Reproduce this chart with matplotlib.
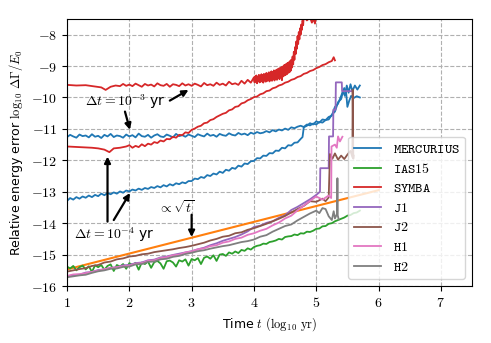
import numpy as np
import matplotlib
matplotlib.use('Agg')
import matplotlib.pyplot as plt

plt.rcParams['mathtext.fontset'] = 'cm'
plt.rcParams['font.family'] = ['DejaVu Sans']

# MERCURIUS, dt = 1e-3 yr (upper blue)
t_mer3 = [1.00, 1.05, 1.10, 1.15, 1.20, 1.25, 1.30, 1.35, 1.40, 1.45, 1.50, 1.55, 1.60, 1.65, 1.70, 1.75,
          1.80, 1.85, 1.90, 1.95, 2.00, 2.05, 2.10, 2.15, 2.20, 2.25, 2.30, 2.35, 2.40, 2.45, 2.50, 2.55,
          2.60, 2.65, 2.70, 2.75, 2.80, 2.85, 2.90, 2.95, 3.00, 3.05, 3.10, 3.15, 3.20, 3.25, 3.30, 3.35,
          3.40, 3.45, 3.50, 3.55, 3.60, 3.65, 3.70, 3.75, 3.80, 3.85, 3.90, 3.95, 4.00, 4.05, 4.10, 4.15,
          4.20, 4.25, 4.30, 4.35, 4.40, 4.45, 4.50, 4.55, 4.60, 4.65, 4.70, 4.75, 4.80, 4.85, 4.90, 4.95,
          5.00, 5.05, 5.10, 5.15, 5.20, 5.25, 5.30, 5.35, 5.40, 5.43, 5.46, 5.49, 5.52, 5.55, 5.58, 5.62,
          5.66, 5.70]
e_mer3 = [-11.26, -11.19, -11.24, -11.28, -11.18, -11.23, -11.21, -11.27, -11.17, -11.25, -11.22, -11.29,
          -11.19, -11.24, -11.16, -11.26, -11.21, -11.23, -11.28, -11.18,
          -11.24, -11.20, -11.27, -11.15, -11.23, -11.25, -11.19, -11.28, -11.21, -11.17, -11.24, -11.26,
          -11.18, -11.22, -11.27, -11.16, -11.23, -11.20, -11.25, -11.18,
          -11.22, -11.26, -11.17, -11.21, -11.24, -11.15, -11.22, -11.19, -11.25, -11.16, -11.20, -11.22,
          -11.14, -11.19, -11.21, -11.13, -11.18, -11.15, -11.20, -11.12,
          -11.16, -11.10, -11.14, -11.12, -11.07, -11.11, -11.04, -11.08, -11.02, -11.05, -10.99, -11.03,
          -10.95, -10.98, -10.93, -10.90, -10.94, -10.86, -10.89, -10.83,
          -10.86, -10.78, -10.80, -10.72, -10.70, -10.55, -10.45, -10.15, -10.05, -9.80, -9.95, -9.62,
          -9.85, -9.58, -9.80, -9.62, -9.75, -9.62]

# MERCURIUS, dt = 1e-4 yr (lower blue)
t_mer4 = [1.00, 1.05, 1.10, 1.15, 1.20, 1.25, 1.30, 1.35, 1.40, 1.45, 1.50, 1.55, 1.60, 1.65, 1.70, 1.75,
          1.80, 1.85, 1.90, 1.95, 2.00, 2.05, 2.10, 2.15, 2.20, 2.25, 2.30, 2.35, 2.40, 2.45, 2.50, 2.55,
          2.60, 2.65, 2.70, 2.75, 2.80, 2.85, 2.90, 2.95, 3.00, 3.05, 3.10, 3.15, 3.20, 3.25, 3.30, 3.35,
          3.40, 3.45, 3.50, 3.55, 3.60, 3.65, 3.70, 3.75, 3.80, 3.85, 3.90, 3.95, 4.00, 4.05, 4.10, 4.15,
          4.20, 4.25, 4.30, 4.35, 4.40, 4.45, 4.50, 4.55, 4.60, 4.65, 4.70, 4.75, 4.78, 4.80, 4.85, 4.90,
          4.95, 5.00, 5.05, 5.10, 5.15, 5.20, 5.25, 5.30, 5.35, 5.40, 5.45, 5.48, 5.50, 5.53, 5.56, 5.60,
          5.65, 5.70]
e_mer4 = [-13.29, -13.20, -13.25, -13.17, -13.22, -13.15, -13.19, -13.12, -13.17, -13.10, -13.14, -13.06,
          -13.11, -13.04, -13.08, -13.02, -13.06, -12.99, -13.03, -12.96,
          -12.99, -12.93, -12.96, -12.90, -12.94, -12.88, -12.91, -12.85, -12.88, -12.82, -12.86, -12.79,
          -12.83, -12.76, -12.80, -12.73, -12.76, -12.70, -12.73, -12.66,
          -12.66, -12.58, -12.60, -12.53, -12.56, -12.47, -12.50, -12.42, -12.45, -12.36, -12.40, -12.30,
          -12.33, -12.24, -12.27, -12.17, -12.20, -12.10, -12.12, -12.03,
          -12.02, -11.93, -11.94, -11.85, -11.86, -11.77, -11.78, -11.69, -11.70, -11.60, -11.62, -11.52,
          -11.53, -11.44, -11.43, -11.32,
          -11.26, -10.95, -10.90, -10.82, -10.86, -10.76, -10.80, -10.70, -10.72, -10.62, -10.58, -10.30,
          -10.20, -9.95, -9.70, -9.85, -10.30, -10.10, -9.95, -10.02, -9.96, -10.00]

# IAS15
t_ias = [1.00, 1.05, 1.10, 1.15, 1.20, 1.25, 1.30, 1.35, 1.40, 1.45, 1.50, 1.55, 1.60, 1.65, 1.70, 1.75,
         1.80, 1.85, 1.90, 1.95, 2.00, 2.05, 2.10, 2.15, 2.20, 2.25, 2.30, 2.35, 2.40, 2.45, 2.50, 2.55,
         2.60, 2.65, 2.70, 2.75, 2.80, 2.85, 2.90, 2.95, 3.00, 3.05, 3.10, 3.15, 3.20, 3.25, 3.30, 3.35,
         3.40, 3.45, 3.50, 3.55, 3.60, 3.65, 3.70, 3.75, 3.80, 3.85, 3.90, 3.95, 4.00, 4.05, 4.10, 4.15,
         4.20, 4.25, 4.30, 4.35, 4.40, 4.45, 4.50, 4.55, 4.60, 4.65, 4.70, 4.75, 4.80, 4.85, 4.90, 4.95,
         5.00, 5.05, 5.10, 5.15, 5.20, 5.25, 5.30, 5.35, 5.40, 5.45, 5.50, 5.55, 5.60, 5.65, 5.70]
e_ias = [-15.38, -15.44, -15.36, -15.50, -15.40, -15.35, -15.47, -15.37, -15.55, -15.34, -15.40, -15.33,
         -15.48, -15.36, -15.31, -15.52, -15.33, -15.38, -15.30, -15.45,
         -15.27, -15.33, -15.26, -15.48, -15.25, -15.30, -15.22, -15.42, -15.24, -15.20, -15.28, -15.45,
         -15.21, -15.19, -15.25, -15.38, -15.18, -15.22, -15.15, -15.35,
         -15.14, -15.18, -15.11, -15.30, -15.10, -15.06, -15.13, -15.02, -15.20, -15.00, -14.98, -15.04,
         -14.93, -14.97, -14.90, -14.95, -14.85, -14.88, -14.80, -14.84,
         -14.76, -14.72, -14.70, -14.65, -14.66, -14.60, -14.58, -14.55, -14.50, -14.52, -14.44, -14.42,
         -14.41, -14.36, -14.38, -14.32, -14.33, -14.27, -14.28, -14.24,
         -14.18, -14.17, -14.10, -14.09, -14.02, -14.00, -13.94, -13.90, -13.86, -13.82, -13.76, -13.74,
         -13.68, -13.66, -13.60]

# SYMBA, dt = 1e-3 yr (upper red)
t_sym3 = [1.00, 1.15, 1.30, 1.45, 1.55, 1.62, 1.70, 1.78, 1.85, 1.90, 1.95,
          2.00, 2.05, 2.10, 2.15, 2.20, 2.25, 2.30, 2.35, 2.40, 2.45, 2.50, 2.55, 2.60, 2.65, 2.70, 2.75,
          2.80, 2.85, 2.90, 2.95, 3.00, 3.05, 3.10, 3.15, 3.20, 3.25, 3.30, 3.35, 3.40, 3.45, 3.50, 3.55,
          3.60, 3.65, 3.70, 3.75, 3.80, 3.85, 3.90, 3.95,
          4.00, 4.01, 4.02, 4.03, 4.04, 4.05, 4.06, 4.07, 4.08, 4.09, 4.10, 4.11, 4.12, 4.13, 4.14, 4.15,
          4.16, 4.17, 4.18, 4.19, 4.20, 4.21, 4.22, 4.23, 4.24, 4.25, 4.26, 4.27, 4.28, 4.29, 4.30, 4.31,
          4.32, 4.33, 4.34, 4.35, 4.36, 4.37, 4.38, 4.39, 4.40, 4.41, 4.42, 4.43, 4.44, 4.45, 4.46, 4.47,
          4.48, 4.49, 4.50, 4.51, 4.52, 4.53, 4.54, 4.55, 4.56, 4.57, 4.58, 4.59, 4.60,
          4.61, 4.62, 4.63, 4.64, 4.65, 4.66, 4.67, 4.68, 4.69, 4.70, 4.71, 4.72, 4.73, 4.74, 4.75, 4.76,
          4.77, 4.78, 4.79, 4.80, 4.85, 4.90, 4.93, 4.96, 4.98, 5.00]
e_sym3 = [-9.60, -9.62, -9.61, -9.65, -9.68, -9.76, -9.66, -9.62, -9.64, -9.57, -9.63,
          -9.59, -9.64, -9.56, -9.61, -9.66, -9.57, -9.62, -9.59, -9.65, -9.55, -9.61, -9.63, -9.57, -9.66,
          -9.58, -9.60, -9.64, -9.55, -9.62, -9.58,
          -9.63, -9.56, -9.60, -9.65, -9.54, -9.61, -9.58, -9.63, -9.53, -9.60, -9.56, -9.62, -9.50, -9.58,
          -9.55, -9.60, -9.47, -9.56, -9.44, -9.53,
          -9.36, -9.52, -9.33, -9.50, -9.30, -9.55, -9.34, -9.48, -9.28, -9.52,
          -9.31, -9.50, -9.26, -9.47, -9.29, -9.53, -9.25, -9.46, -9.27, -9.50,
          -9.22, -9.48, -9.24, -9.44, -9.20, -9.49, -9.21, -9.45, -9.17, -9.47,
          -9.19, -9.42, -9.14, -9.46, -9.16, -9.40, -9.12, -9.44, -9.10, -9.38,
          -9.08, -9.42, -9.06, -9.36, -9.04, -9.45, -9.02, -9.33, -8.98, -9.30,
          -8.96, -9.28, -8.93, -9.26, -8.90, -9.22, -8.88, -9.20, -8.84, -9.15,
          -8.80,
          -9.05, -8.70, -8.95, -8.55, -8.80, -8.40, -8.62, -8.22, -8.45, -8.05,
          -8.30, -7.92, -8.15, -7.80, -8.00, -7.68, -7.85, -7.55, -7.70, -7.40,
          -7.55, -7.45, -7.62, -7.50, -7.65, -7.40]

# SYMBA, dt = 1e-4 yr (lower red)
t_sym4 = [1.00, 1.20, 1.40, 1.50, 1.60, 1.68, 1.75, 1.85, 1.95,
          2.00, 2.05, 2.10, 2.15, 2.20, 2.25, 2.30, 2.35, 2.40, 2.45, 2.50, 2.55, 2.60, 2.65, 2.70, 2.75,
          2.80, 2.85, 2.90, 2.95, 3.00, 3.05, 3.10, 3.15, 3.20, 3.25, 3.30, 3.35, 3.40, 3.45, 3.50, 3.55,
          3.60, 3.65, 3.70, 3.75, 3.80, 3.85, 3.90, 3.95, 4.00, 4.05, 4.10, 4.15, 4.20, 4.25, 4.30, 4.35,
          4.40, 4.45, 4.50, 4.55, 4.60, 4.65, 4.70, 4.75, 4.80, 4.85, 4.90, 4.95, 5.00, 5.05, 5.10, 5.15,
          5.20, 5.25, 5.28, 5.30]
e_sym4 = [-11.56, -11.58, -11.60, -11.62, -11.66, -11.74, -11.62, -11.60, -11.56,
          -11.52, -11.60, -11.54, -11.58, -11.49, -11.55, -11.47, -11.50, -11.42, -11.45, -11.37, -11.40,
          -11.32, -11.33, -11.25, -11.28, -11.19, -11.20, -11.11, -11.13,
          -11.03, -10.99, -10.93, -10.90, -10.82, -10.80, -10.72, -10.69, -10.62, -10.57, -10.52, -10.49,
          -10.41, -10.38, -10.30, -10.28, -10.19, -10.16, -10.09, -10.05,
          -9.99, -9.97, -9.90, -9.87, -9.80, -9.78, -9.71, -9.68, -9.62, -9.59, -9.53, -9.50, -9.44, -9.41,
          -9.35, -9.32, -9.25, -9.22, -9.16, -9.13,
          -9.07, -9.03, -8.97, -8.94, -8.88, -8.84, -8.72, -8.82]

# J1, J2, H1, H2
t_j1 = [1.0, 1.1, 1.2, 1.3, 1.4, 1.5, 1.6, 1.7, 1.8, 1.9, 2.0, 2.1, 2.2, 2.3, 2.4, 2.5, 2.6, 2.7, 2.8, 2.9,
        3.0, 3.1, 3.2, 3.3, 3.4, 3.5, 3.6, 3.7, 3.8, 3.9, 4.0, 4.1, 4.2, 4.3, 4.4, 4.5, 4.6, 4.7, 4.8, 4.9,
        5.0, 5.06, 5.065, 5.2, 5.205, 5.27, 5.275, 5.31, 5.315, 5.41, 5.415, 5.56]
e_j1 = [-15.70, -15.65, -15.64, -15.57, -15.55, -15.49, -15.47, -15.42, -15.40, -15.34, -15.33, -15.27,
        -15.25, -15.18, -15.16, -15.09, -15.06, -15.01, -14.97, -14.93, -14.89, -14.83, -14.78, -14.70,
        -14.64, -14.56, -14.50, -14.44, -14.36, -14.26, -14.12, -14.08, -13.99, -13.94, -13.83, -13.75,
        -13.58, -13.48, -13.36, -13.24, -13.10, -13.00, -12.25, -12.25, -11.24, -11.24, -10.39, -10.39,
        -9.52, -9.52, -9.80, -9.80]

t_j2 = [1.0, 1.1, 1.2, 1.3, 1.4, 1.5, 1.6, 1.7, 1.8, 1.9, 2.0, 2.1, 2.2, 2.3, 2.4, 2.5, 2.6, 2.7, 2.8, 2.9,
        3.0, 3.1, 3.2, 3.3, 3.4, 3.5, 3.6, 3.7, 3.8, 3.9, 4.0, 4.1, 4.2, 4.3, 4.4, 4.5, 4.6, 4.7, 4.8, 4.9,
        5.0, 5.1, 5.15, 5.2, 5.22, 5.26, 5.3, 5.35, 5.4, 5.45, 5.5, 5.55, 5.58, 5.585, 5.595, 5.6]
e_j2 = [-15.54, -15.50, -15.46, -15.43, -15.36, -15.33, -15.25, -15.22, -15.15, -15.12, -15.06, -15.04,
        -14.99, -14.97, -14.92, -14.89, -14.86, -14.83, -14.79, -14.76, -14.72, -14.67, -14.62, -14.55,
        -14.50, -14.43, -14.40, -14.32, -14.29, -14.21, -14.16, -14.09, -14.02, -13.94, -13.86, -13.77,
        -13.66, -13.55, -13.45, -13.30, -13.32, -13.22, -13.30, -13.18, -11.80, -11.95, -11.78, -11.98,
        -11.85, -11.96, -11.82, -11.70, -11.90, -9.75, -11.95, -11.85]

t_h1 = [1.0, 1.1, 1.2, 1.3, 1.4, 1.5, 1.6, 1.7, 1.8, 1.9, 2.0, 2.1, 2.2, 2.3, 2.4, 2.5, 2.6, 2.7, 2.8, 2.9,
        3.0, 3.1, 3.2, 3.3, 3.4, 3.5, 3.6, 3.7, 3.8, 3.9, 4.0, 4.1, 4.2, 4.3, 4.4, 4.5, 4.6, 4.7, 4.8, 4.9,
        5.0, 5.1, 5.2, 5.24, 5.245, 5.3, 5.33, 5.35, 5.38, 5.42]
e_h1 = [-15.68, -15.63, -15.62, -15.59, -15.55, -15.51, -15.46, -15.43, -15.40, -15.37, -15.35, -15.29,
        -15.27, -15.20, -15.18, -15.11, -15.08, -15.02, -15.00, -14.93, -14.90, -14.83, -14.80, -14.73,
        -14.70, -14.62, -14.58, -14.50, -14.46, -14.37, -14.32, -14.24, -14.18, -14.07, -13.98, -13.85,
        -13.76, -13.59, -13.44, -13.29, -13.15, -13.25, -13.12, -13.20, -11.56, -11.50, -11.60, -11.24,
        -11.40, -11.25]

t_h2 = [1.0, 1.1, 1.2, 1.3, 1.4, 1.5, 1.6, 1.7, 1.8, 1.9, 2.0, 2.1, 2.2, 2.3, 2.4, 2.5, 2.6, 2.7, 2.8, 2.9,
        3.0, 3.1, 3.2, 3.3, 3.4, 3.5, 3.6, 3.7, 3.8, 3.9, 4.0, 4.1, 4.2, 4.3, 4.4, 4.5, 4.6, 4.7, 4.8, 4.9,
        5.0, 5.05, 5.1, 5.15, 5.2, 5.25, 5.28, 5.3, 5.335, 5.34, 5.345, 5.36]
e_h2 = [-15.72, -15.69, -15.66, -15.64, -15.58, -15.53, -15.50, -15.45, -15.44, -15.39, -15.38, -15.31,
        -15.30, -15.23, -15.22, -15.15, -15.13, -15.07, -15.04, -14.98, -14.94, -14.89, -14.86, -14.81,
        -14.77, -14.73, -14.70, -14.65, -14.60, -14.57, -14.52, -14.43, -14.38, -14.27, -14.18, -14.09,
        -14.04, -13.91, -13.80, -13.69, -13.60, -13.68, -13.52, -13.55, -13.78, -13.90, -13.62, -13.85,
        -13.70, -12.57, -13.75, -13.88]

# sqrt(t) reference line endpoints
t_sqrt = [1.0, 6.0]
e_sqrt = [-15.47, -12.95]

xticks = [1, 2, 3, 4, 5, 6, 7]
yticks = [-16, -15, -14, -13, -12, -11, -10, -9, -8]

fig = plt.figure(figsize=(4.91, 3.43), dpi=100)
ax = fig.add_axes([0.1365, 0.166, 0.8248, 0.779])

lw = 1.3
ax.plot(t_mer3, e_mer3, color='C0', lw=lw, label=r'$\mathtt{MERCURIUS}$')
ax.plot(t_mer4, e_mer4, color='C0', lw=lw)
ax.plot(t_sqrt, e_sqrt, color='C1', lw=1.5)
ax.plot(t_ias, e_ias, color='C2', lw=lw, label=r'$\mathtt{IAS15}$')
ax.plot(t_sym3, e_sym3, color='C3', lw=lw, label=r'$\mathtt{SYMBA}$')
ax.plot(t_sym4, e_sym4, color='C3', lw=lw)
ax.plot(t_j1, e_j1, color='C4', lw=lw, label=r'$\mathtt{J1}$')
ax.plot(t_j2, e_j2, color='C5', lw=lw, label=r'$\mathtt{J2}$')
ax.plot(t_h1, e_h1, color='C6', lw=lw, label=r'$\mathtt{H1}$')
ax.plot(t_h2, e_h2, color='C7', lw=lw, label=r'$\mathtt{H2}$')

ax.set_xlim(1, 7.5)
ax.set_ylim(-16, -7.5)
ax.set_xticks(xticks)
ax.set_xticklabels(['$%d$' % v for v in xticks], fontsize=10)
ax.set_yticks(yticks)
ax.set_yticklabels(['$%d$' % v for v in yticks], fontsize=10)
ax.grid(True, ls='--', color='#b0b0b0', lw=0.8)
ax.set_axisbelow(True)

ax.set_xlabel(r'Time $t$ $(\log_{10}\,\mathrm{yr})$', fontsize=9)
ax.set_ylabel(r'Relative energy error $\log_{10}\,\Delta\Gamma/E_0$', fontsize=9)

arw = dict(arrowstyle='-|>', color='k', lw=1.6, mutation_scale=9, shrinkA=0, shrinkB=0)
ax.text(1.93, -10.15, r'$\Delta t = 10^{-3}$ yr', fontsize=10, ha='center', va='center')
ax.annotate('', xy=(2.95, -9.76), xytext=(2.65, -10.1), arrowprops=arw)
ax.annotate('', xy=(2.01, -11.03), xytext=(1.93, -10.45), arrowprops=arw)

ax.text(1.75, -14.37, r'$\Delta t = 10^{-4}$ yr', fontsize=10, ha='center', va='center')
ax.annotate('', xy=(1.65, -11.88), xytext=(1.65, -13.95), arrowprops=arw)
ax.annotate('', xy=(2.01, -13.04), xytext=(1.75, -13.9), arrowprops=arw)

ax.text(2.75, -13.5, r'$\propto\sqrt{t}$', fontsize=10, ha='center', va='center')
ax.annotate('', xy=(3.0, -14.44), xytext=(3.0, -13.73), arrowprops=arw)

ax.legend(loc='lower right', fontsize=10, labelspacing=0.4, framealpha=0.8)

fig.savefig('out.png', dpi=100)
